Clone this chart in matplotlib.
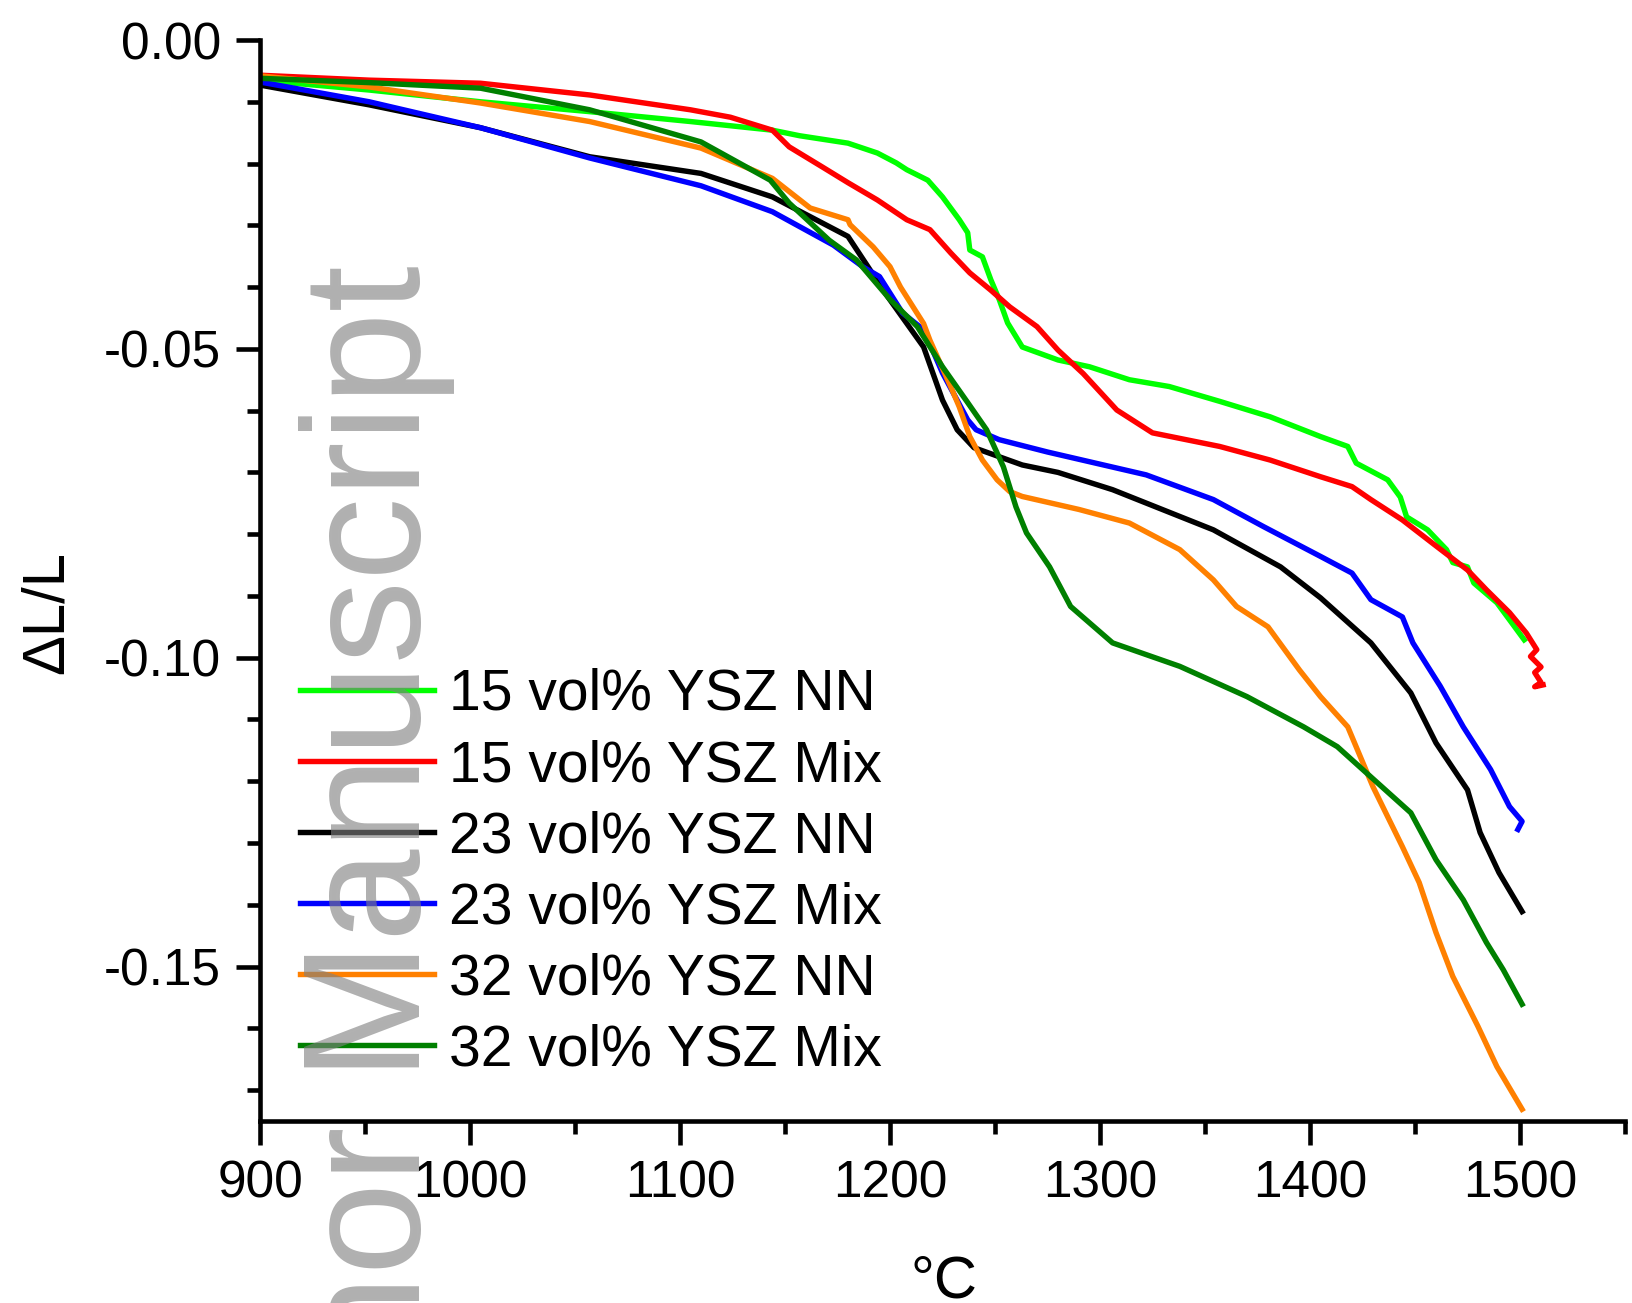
import matplotlib
matplotlib.use("Agg")
import matplotlib.pyplot as plt
from matplotlib.ticker import MultipleLocator, FuncFormatter

plt.rcParams['font.family'] = ['Liberation Sans', 'DejaVu Sans']
plt.rcParams['axes.unicode_minus'] = False

# dilatometer curves, temperature (C) vs dL/L
T_15nn = [900, 952, 1005, 1057, 1105, 1144, 1157, 1180, 1194, 1203, 1208, 1218, 1225, 1233, 1237,
          1238, 1244, 1248, 1252, 1256, 1263, 1280, 1295, 1314, 1333, 1357, 1381, 1405, 1418, 1422,
          1437, 1443, 1446, 1456, 1465, 1468, 1475, 1478, 1489, 1494, 1502]
dL_15nn = [-0.0065, -0.0081, -0.0100, -0.0116, -0.0132, -0.0146, -0.0155, -0.0167, -0.0183, -0.0199,
           -0.0210, -0.0227, -0.0254, -0.0291, -0.0312, -0.0340, -0.0351, -0.0388, -0.0420, -0.0458,
           -0.0497, -0.0518, -0.0529, -0.0550, -0.0561, -0.0585, -0.0610, -0.0642, -0.0658, -0.0685,
           -0.0712, -0.0740, -0.0772, -0.0793, -0.0825, -0.0846, -0.0853, -0.0879, -0.0911, -0.0934,
           -0.0971]

T_15mix = [900, 952, 1005, 1057, 1105, 1124, 1144, 1152, 1168, 1180, 1194, 1208, 1219, 1229, 1238,
           1248, 1257, 1270, 1280, 1292, 1308, 1325, 1357, 1381, 1405, 1420, 1429, 1444, 1460, 1475,
           1484, 1495, 1503, 1508, 1505, 1510, 1507, 1510, 1507, 1511]
dL_15mix = [-0.0057, -0.0065, -0.0070, -0.0089, -0.0113, -0.0125, -0.0146, -0.0173, -0.0206, -0.0231,
            -0.0259, -0.0291, -0.0307, -0.0345, -0.0377, -0.0405, -0.0432, -0.0464, -0.0502, -0.0540,
            -0.0599, -0.0636, -0.0658, -0.0680, -0.0707, -0.0723, -0.0744, -0.0777, -0.0819, -0.0858,
            -0.0890, -0.0927, -0.0960, -0.0987, -0.0998, -0.1015, -0.1024, -0.1040, -0.1047, -0.1044]

T_23nn = [900, 952, 1005, 1057, 1110, 1144, 1180, 1199, 1216, 1225, 1232, 1240, 1263, 1280, 1306,
          1354, 1386, 1405, 1429, 1448, 1460, 1475, 1481, 1490, 1501]
dL_23nn = [-0.0073, -0.0105, -0.0142, -0.0189, -0.0216, -0.0254, -0.0318, -0.0416, -0.0497, -0.0583,
           -0.0631, -0.0660, -0.0688, -0.0700, -0.0728, -0.0793, -0.0853, -0.0903, -0.0976, -0.1057,
           -0.1138, -0.1214, -0.1283, -0.1348, -0.1411]

T_23mix = [900, 952, 1005, 1057, 1110, 1144, 1173, 1187, 1195, 1206, 1216, 1225, 1237, 1241, 1252,
           1275, 1322, 1354, 1378, 1405, 1420, 1429, 1444, 1449, 1462, 1473, 1486, 1495, 1501, 1499]
dL_23mix = [-0.0068, -0.0100, -0.0142, -0.0191, -0.0236, -0.0278, -0.0332, -0.0367, -0.0383, -0.0442,
            -0.0469, -0.0539, -0.0615, -0.0631, -0.0647, -0.0667, -0.0704, -0.0744, -0.0788, -0.0836,
            -0.0863, -0.0906, -0.0934, -0.0976, -0.1046, -0.1112, -0.1181, -0.1241, -0.1265, -0.1278]

T_32nn = [900, 952, 1005, 1057, 1110, 1144, 1162, 1180, 1181, 1192, 1200, 1205, 1216, 1219, 1229,
          1233, 1238, 1244, 1251, 1257, 1263, 1290, 1314, 1338, 1354, 1365, 1380, 1395, 1405, 1418,
          1430, 1444, 1452, 1460, 1468, 1480, 1489, 1501]
dL_32nn = [-0.0058, -0.0076, -0.0102, -0.0132, -0.0175, -0.0224, -0.0272, -0.0291, -0.0299, -0.0335,
           -0.0367, -0.0400, -0.0459, -0.0486, -0.0562, -0.0594, -0.0642, -0.0680, -0.0712, -0.0731,
           -0.0739, -0.0760, -0.0782, -0.0825, -0.0874, -0.0917, -0.0950, -0.1020, -0.1063, -0.1112,
           -0.1209, -0.1306, -0.1364, -0.1445, -0.1516, -0.1597, -0.1662, -0.1731]

T_32mix = [900, 952, 1005, 1057, 1110, 1143, 1152, 1171, 1184, 1200, 1213, 1225, 1237, 1246, 1254,
           1260, 1265, 1276, 1286, 1306, 1338, 1370, 1397, 1413, 1429, 1448, 1460, 1473, 1484, 1492,
           1501]
dL_32mix = [-0.0062, -0.0069, -0.0078, -0.0113, -0.0165, -0.0227, -0.0264, -0.0324, -0.0356, -0.0420,
            -0.0464, -0.0529, -0.0587, -0.0631, -0.0691, -0.0756, -0.0798, -0.0853, -0.0917, -0.0976,
            -0.1014, -0.1063, -0.1112, -0.1144, -0.1193, -0.1251, -0.1327, -0.1392, -0.1461, -0.1505,
            -0.1561]

labels = ['15 vol% YSZ NN', '15 vol% YSZ Mix', '23 vol% YSZ NN',
          '23 vol% YSZ Mix', '32 vol% YSZ NN', '32 vol% YSZ Mix']
colors = ['#00ff00', '#ff0000', '#000000', '#0000ff', '#ff8000', '#008000']
curves = [(T_15nn, dL_15nn), (T_15mix, dL_15mix), (T_23nn, dL_23nn),
          (T_23mix, dL_23mix), (T_32nn, dL_32nn), (T_32mix, dL_32mix)]

W, H = 1632, 1303
fig = plt.figure(figsize=(W/100, H/100), dpi=100)
ax = fig.add_axes([260/W, 1-1121/H, 1365/W, 1081/H])

for (t, d), c, lab in zip(curves, colors, labels):
    ax.plot(t, d, color=c, lw=3.9, label=lab, solid_joinstyle='round')

ax.set_xlim(900, 1550)
ax.set_ylim(-0.175, 0)
ax.xaxis.set_major_locator(MultipleLocator(100))
ax.xaxis.set_minor_locator(MultipleLocator(50))
ax.yaxis.set_major_locator(MultipleLocator(0.05))
ax.yaxis.set_minor_locator(MultipleLocator(0.01))
ax.yaxis.set_major_formatter(FuncFormatter(lambda v, p: '0.00' if abs(v) < 1e-9 else f'{v:.2f}'))
ax.xaxis.set_major_formatter(FuncFormatter(lambda v, p: '' if v > 1500 else f'{v:.0f}'))

for s in ['top', 'right']:
    ax.spines[s].set_visible(False)
for s in ['left', 'bottom']:
    ax.spines[s].set_linewidth(3.3)
ax.tick_params(which='major', direction='out', length=17, width=3.3, labelsize=37, pad=11)
ax.tick_params(which='minor', direction='out', length=9.5, width=3.3)

ax.legend(loc='upper left', bbox_to_anchor=(40/1365, 1-(668-40)/1081), frameon=False,
          fontsize=41, handlelength=2.35, handletextpad=0.26, labelspacing=0.3,
          borderpad=0, borderaxespad=0)

fig.text(63/W, 1-612/H, 'ΔL/L', rotation=90, rotation_mode='anchor',
         ha='center', va='baseline', fontsize=43)
fig.text(944/W, 1-1297/H, '°C', ha='center', va='baseline', fontsize=43)

# watermark
fig.text(420/W, 1-265/H, 'Author Manuscript', rotation=90, rotation_mode='anchor',
         ha='right', va='baseline', fontsize=120, color='#808080', alpha=0.62, zorder=10)

fig.savefig('out.png', dpi=100)
